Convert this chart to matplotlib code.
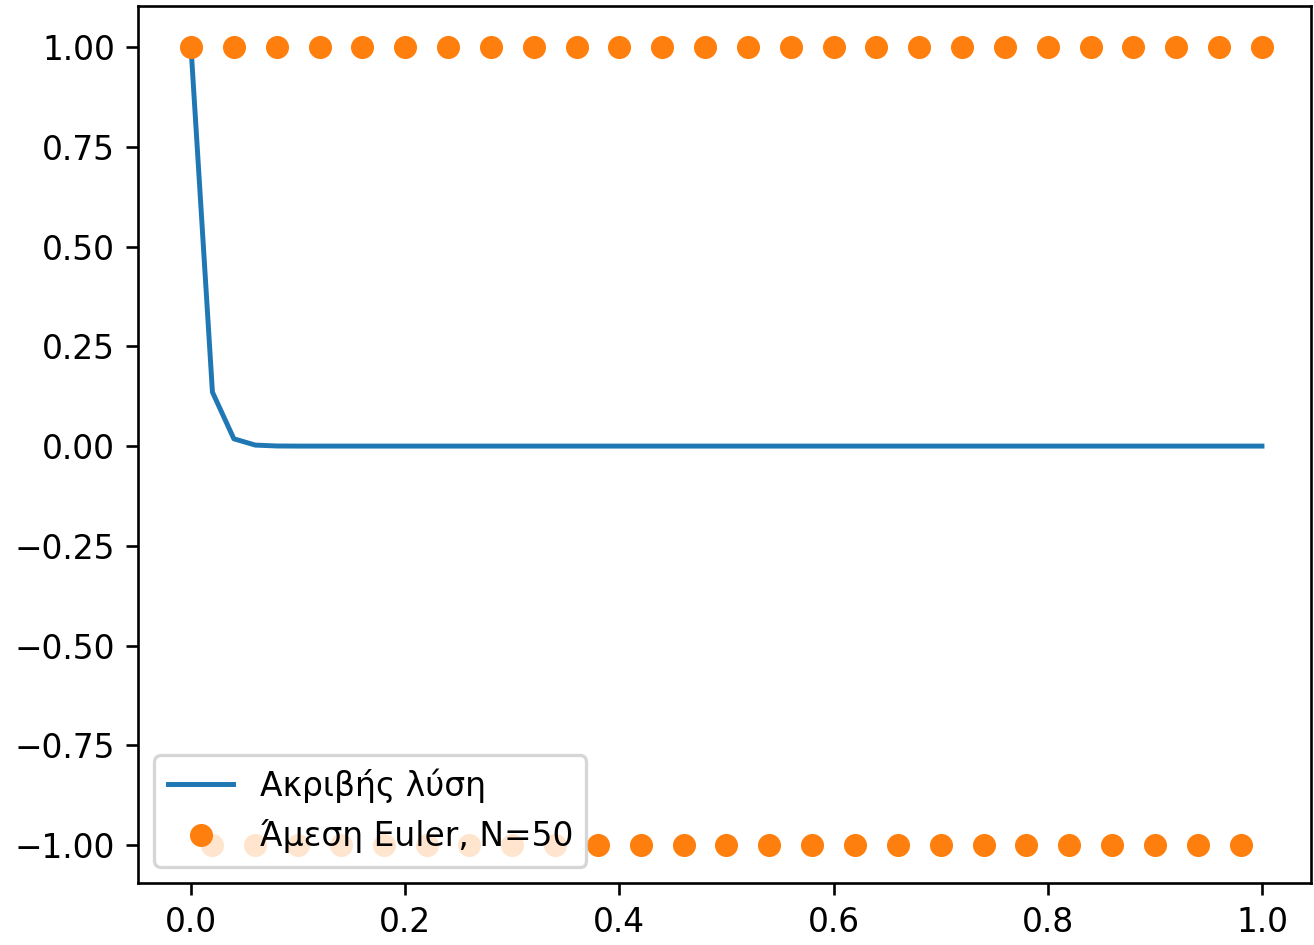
import numpy as np
import matplotlib
matplotlib.use("Agg")
import matplotlib.pyplot as plt

t = np.linspace(0.0, 1.0, 51)
exact = [1.0, 0.1353, 0.0183, 0.0025, 0.0003] + [0.0] * 46
euler = [1.0 if i % 2 == 0 else -1.0 for i in range(51)]

DPI = 237
fig = plt.figure(figsize=(1314 / DPI, 945 / DPI), dpi=DPI)
ax = fig.add_axes([138 / 1314, 1 - 883 / 945, (1311 - 138) / 1314, (883 - 6) / 945])
ax.plot(t, exact, label="Ακριβής λύση")
ax.plot(t, euler, "o", label="Άμεση Euler, N=50")
ax.set_xlim(-0.0495, 1.0458)
ax.set_ylim(-1.095, 1.103)
ax.legend(loc="lower left")
fig.savefig("out.png", dpi=DPI)
